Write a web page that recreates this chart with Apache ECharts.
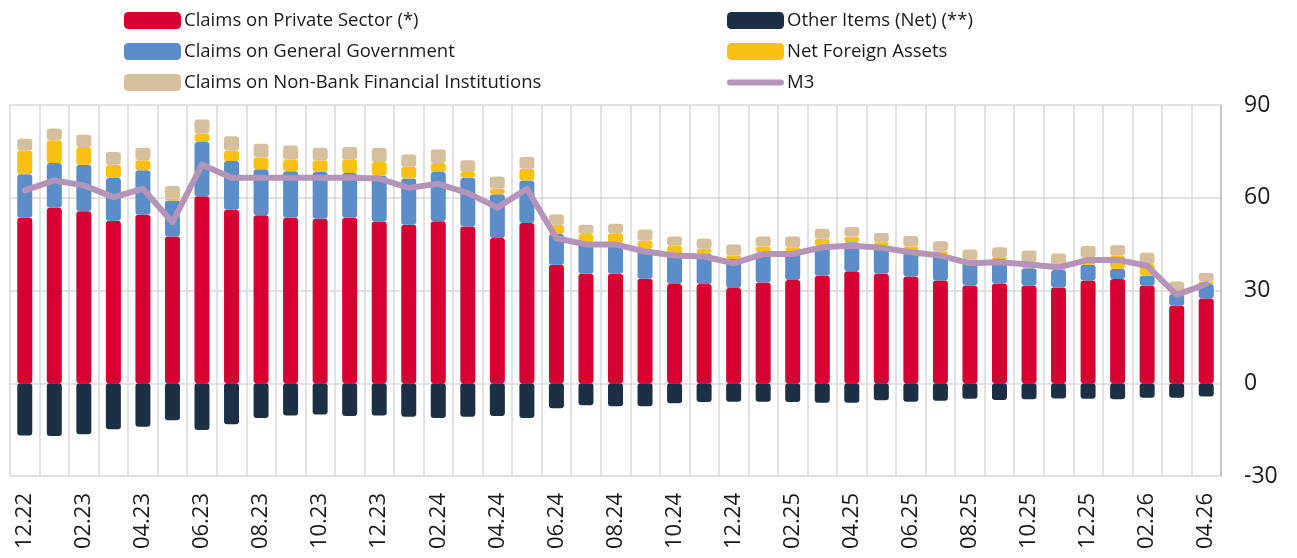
<!DOCTYPE html>
<html>
<head>
<meta charset="utf-8">
<script src="https://cdn.jsdelivr.net/npm/echarts@6/dist/echarts.min.js"></script>
<style>
html,body{margin:0;padding:0;background:#fff;}
#chart{width:1297px;height:558px;}
</style>
</head>
<body>
<div id="chart"></div>
<script>
var categories = ['12.22','01.23','02.23','03.23','04.23','05.23','06.23','07.23','08.23','09.23','10.23','11.23','12.23',
  '01.24','02.24','03.24','04.24','05.24','06.24','07.24','08.24','09.24','10.24','11.24','12.24',
  '01.25','02.25','03.25','04.25','05.25','06.25','07.25','08.25','09.25','10.25','11.25','12.25',
  '01.26','02.26','03.26','04.26'];
var privateSector = [53.5,56.8,55.6,52.6,54.5,47.5,60.5,56.1,54.3,53.5,53.2,53.5,52.3,51.3,52.4,50.7,47.0,51.8,38.3,35.4,35.4,33.8,32.1,32.1,30.8,32.6,33.4,34.8,36.2,35.4,34.5,33.2,31.6,32.3,31.6,31.0,33.2,33.7,31.6,25.1,27.4];
var generalGov = [14.1,14.4,15.1,13.8,14.4,11.6,17.5,15.8,14.9,15.1,15.1,14.5,14.9,14.9,15.9,15.8,14.1,13.8,10.0,10.3,9.9,9.7,9.9,9.9,9.4,9.8,9.0,9.7,9.4,9.1,8.4,8.6,8.0,7.9,5.6,5.6,5.1,3.3,3.2,3.8,4.7];
var netForeign = [7.7,7.4,5.7,4.3,3.2,0.6,2.8,3.4,3.8,3.7,3.8,4.3,4.4,3.8,2.9,1.8,1.8,3.8,3.0,2.6,3.2,2.7,2.5,1.5,1.1,1.8,1.6,2.2,1.9,1.1,1.3,0.9,0.5,0.3,1.9,1.4,2.4,4.3,3.8,0.3,0.8];
var nonBank = [3.8,3.8,4.0,4.1,4.1,4.1,4.5,4.6,4.5,4.6,4.1,4.1,4.5,4.0,4.4,3.8,4.0,3.8,3.3,3.0,3.1,3.5,3.0,3.2,3.6,3.3,3.5,3.3,3.0,3.0,3.4,3.2,3.2,3.5,3.8,4.0,3.7,3.3,3.6,3.7,2.8];
var otherItems = [-16.9,-17.1,-16.5,-14.9,-14.1,-12.0,-15.1,-13.3,-11.2,-10.4,-10.1,-10.6,-10.4,-10.8,-11.2,-10.8,-10.6,-11.2,-8.1,-7.1,-7.4,-7.4,-6.5,-6.1,-6.0,-6.0,-6.1,-6.3,-6.3,-5.5,-6.0,-5.7,-5.0,-5.4,-5.2,-4.9,-5.0,-5.2,-4.7,-4.7,-4.3];
var m3 = [62.4,65.6,64.0,60.2,62.9,52.1,70.7,66.5,66.5,66.5,66.5,66.5,66.2,63.2,64.5,61.5,56.8,62.9,46.9,44.9,44.9,42.6,41.3,41.0,38.8,41.8,41.8,44.0,44.5,43.8,42.4,41.3,38.8,39.1,38.4,37.5,39.9,39.9,38.0,28.6,32.1];
var yTicks = {min:-30, max:90, interval:30};

var names = ['Claims on Private Sector (*)','Claims on General Government','Net Foreign Assets','Claims on Non-Bank Financial Institutions','Other Items (Net) (**)','M3'];
var colors = ['#d40032','#5b8dc8','#f9c212','#d6bf9c','#1c3045','#b594b9'];
var FONT = '"Open Sans", "Noto Sans", sans-serif';

function bar(i, data) {
  return {
    name: names[i], type: 'bar', stack: 'total', data: data, barWidth: 15,
    itemStyle: {color: colors[i], borderRadius: 3},
    emphasis: {disabled: true}
  };
}

var chart = echarts.init(document.getElementById('chart'));
function legendCfg(left, items) {
  return {
    left: left, top: 6, orient: 'vertical', itemWidth: 57, itemHeight: 17, itemGap: 12,
    icon: 'roundRect',
    textStyle: {fontFamily: FONT, fontSize: 18.5, color: '#1a1a1a', padding: [0,0,0,-2]},
    selectedMode: false, data: items
  };
}
var m3Icon = 'path://M3,0 L53,0 A3,3 0 0 1 53,6 L3,6 A3,3 0 0 1 3,0 Z';
chart.setOption({
  animation: false,
  color: colors,
  legend: [
    legendCfg(119, [names[0], names[1], names[3]]),
    legendCfg(722, [names[4], names[2], {name: names[5], icon: m3Icon}])
  ],
  grid: {left: 10, right: 76, top: 105, bottom: 82},
  xAxis: {
    type: 'category', data: categories,
    axisLine: {show: false}, axisTick: {show: false},
    splitLine: {show: true, interval: 0, lineStyle: {color: '#d9d9d9', width: 1.5}},
    axisLabel: {interval: 1, rotate: 90, margin: 17, fontFamily: FONT, fontSize: 22, color: '#1a1a1a'}
  },
  yAxis: {
    type: 'value', position: 'right', min: yTicks.min, max: yTicks.max, interval: yTicks.interval,
    axisLine: {show: true, lineStyle: {color: '#bfbfbf', width: 1.5}},
    axisTick: {show: false},
    splitLine: {lineStyle: {color: '#d9d9d9', width: 1.5}},
    axisLabel: {margin: 23, fontFamily: FONT, fontSize: 23, color: '#1a1a1a'}
  },
  series: [
    bar(0, privateSector),
    bar(1, generalGov),
    bar(2, netForeign),
    bar(3, nonBank),
    bar(4, otherItems),
    {
      name: names[5], type: 'line', data: m3, symbol: 'none', z: 10,
      lineStyle: {color: colors[5], width: 6, cap: 'round', join: 'round'},
      itemStyle: {color: colors[5]},
      emphasis: {disabled: true}
    }
  ]
});
</script>
</body>
</html>
